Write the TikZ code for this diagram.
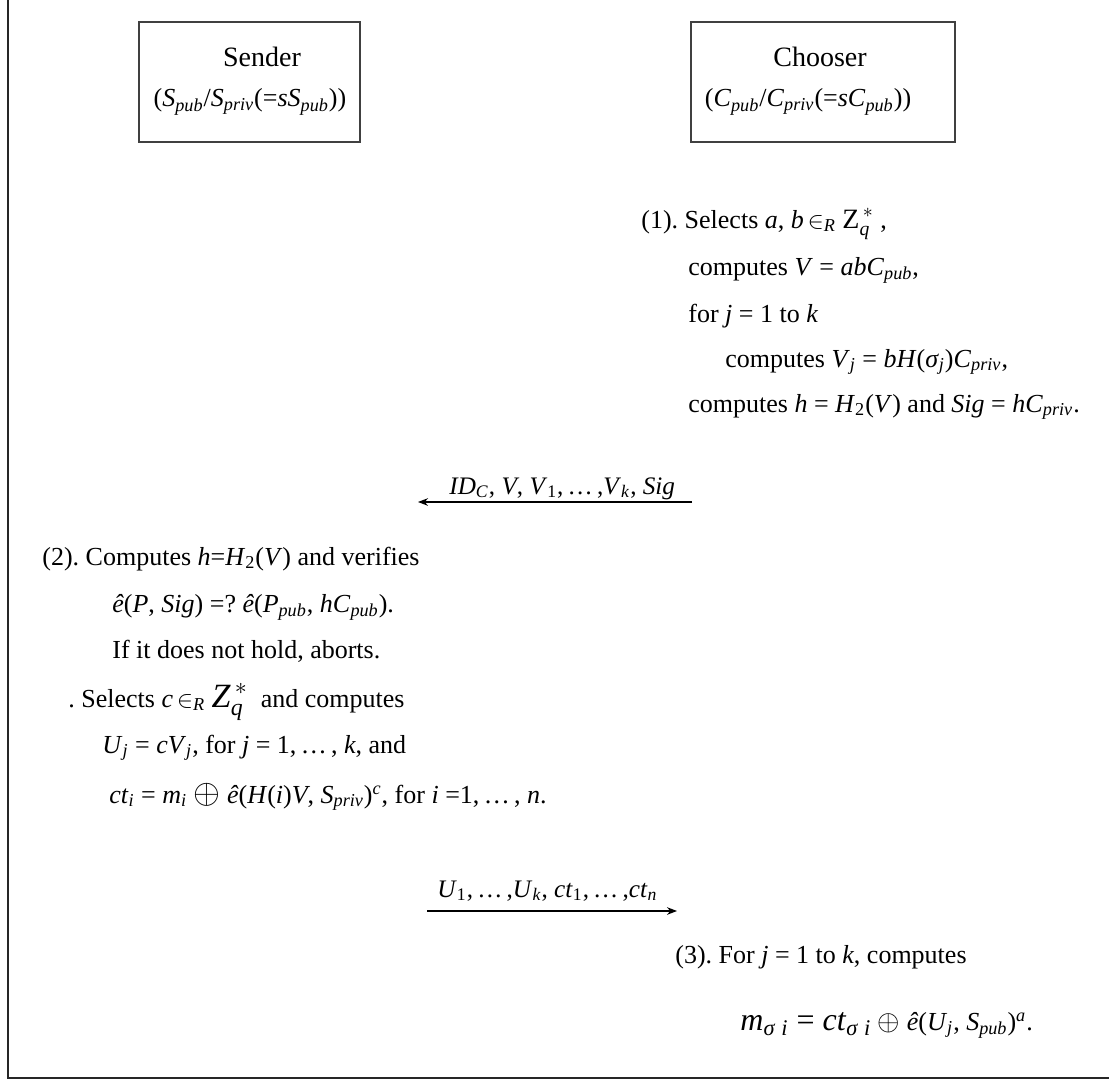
\documentclass[tikz,border=0pt]{standalone}
\usepackage{amsmath}
\usepackage{fontspec}
\setmainfont{Liberation Serif}
\usetikzlibrary{arrows.meta}
\newcommand{\ti}[1]{\textit{#1}}
\newcommand{\ts}[1]{\textsubscript{\textit{#1}}}
\newcommand{\mi}[1]{\text{\textit{#1}}}
\frenchspacing
\begin{document}
\begin{tikzpicture}[x=0.5pt,y=-0.5pt,
  txt/.style={anchor=base west,inner sep=0pt,font=\fontsize{13}{15}\selectfont},
  lbl/.style={txt,font=\fontsize{12.6}{14}\selectfont},
  party/.style={draw=black!75,line width=0.6pt,minimum height=60pt,inner sep=0pt},
  msg/.style={line width=0.55pt,-{Stealth[length=5pt,width=3.8pt]}},
  frame/.style={line width=0.8pt,black!85}]
\path[use as bounding box] (0,0) rectangle (1109,1081);
\draw[frame] (8,0) -- (8,1078) -- (1109,1078);
% parties
\node[party,minimum width=110.5pt] (sender) at (249.5,82) {};
\node[party,minimum width=132pt] (chooser) at (823,82) {};
\node[txt,anchor=base,font=\fontsize{14}{16}\selectfont] (sname) at (262,67) {Sender};
\node[txt,anchor=base] (skey) at (250,107) {(\ti{S}\ts{pub}/\ti{S}\ts{priv}(=\ti{sS}\ts{pub}))};
\node[txt,anchor=base,font=\fontsize{14}{16}\selectfont] (cname) at (820,67) {Chooser};
\node[txt,anchor=base] (ckey) at (808,107) {(\ti{C}\ts{pub}/\ti{C}\ts{priv}(=\ti{sC}\ts{pub}))};
% step 1
\node[txt] (s1a) at (641,228) {(1). Selects \ti{a}, \ti{b}$\,\in_{\mi{R}}$ {\fontsize{14}{16}\selectfont$\text{Z}_{\mi{q}}^{\,*}$} ,};
\node[txt] (s1b) at (688,275) {computes \ti{V} = \ti{abC}\ts{pub},};
\node[txt] (s1c) at (688,322) {for \ti{j} = 1 to \ti{k}};
\node[txt] (s1d) at (725,367) {computes \ti{V}\ts{j} = \ti{bH}(\ti{σ}\ts{j})\ti{C}\ts{priv},};
\node[txt] (s1e) at (688,412) {computes \ti{h} = \ti{H}\textsubscript{2}(\ti{V}) and \ti{Sig} = \ti{hC}\ts{priv}.};
% message 1
\coordinate (m1s) at (692,502);
\coordinate (m1e) at (418,502);
\draw[msg] (m1s) -- (m1e);
\node[lbl] (m1l) at (449,494) {\ti{ID}\ts{C}, \ti{V}, \ti{V}\textsubscript{1},\,…\,,\ti{V}\ts{k}, \ti{Sig}};
% step 2
\node[txt] (s2a) at (42,565) {(2). Computes \ti{h}=\ti{H}\textsubscript{2}(\ti{V}) and verifies};
\node[txt] (s2b) at (112,612) {\ti{ê}(\ti{P}, \ti{Sig}) =? \ti{ê}(\ti{P}\ts{pub}, \ti{hC}\ts{pub}).};
\node[txt] (s2c) at (112,658) {If it does not hold, aborts.};
\node[txt] (s2d) at (68,707) {. Selects \ti{c}$\,\in_{\mi{R}}$ {\fontsize{17}{19}\selectfont$\mi{Z}_{\mi{q}}^{\,*}$}\ \ and computes};
\node[txt] (s2e) at (102,753) {\ti{U}\ts{j} = \ti{cV}\ts{j}, for \ti{j} = 1,\,…\,, \ti{k}, and};
\node[txt] (s2f) at (109,803) {\ti{ct}\ts{i} = \ti{m}\ts{i} {\fontsize{16}{18}\selectfont$\oplus$} \ti{ê}(\ti{H}(\ti{i})\ti{V}, \ti{S}\ts{priv})\textsuperscript{\ti{c}}, for \ti{i} =1,\,…\,, \ti{n}.};
% message 2
\coordinate (m2s) at (427,911);
\coordinate (m2e) at (677,911);
\draw[msg] (m2s) -- (m2e);
\node[lbl] (m2l) at (437,897) {\ti{U}\textsubscript{1},\,…\,,\ti{U}\ts{k}, \ti{ct}\textsubscript{1},\,…\,,\ti{ct}\ts{n}};
% step 3
\node[txt] (s3a) at (675,963) {(3). For \ti{j} = 1 to \ti{k}, computes};
\node[txt] (s3b) at (740,1030) {{\fontsize{16}{18}\selectfont$\mi{m}_{\mi{σ}\;\mi{i}}$ = $\mi{ct}_{\mi{σ}\;\mi{i}}$} {\fontsize{14}{16}\selectfont$\oplus$} \ti{ê}(\ti{U}\ts{j}, \ti{S}\ts{pub})\textsuperscript{\ti{a}}.};
\end{tikzpicture}
\end{document}
